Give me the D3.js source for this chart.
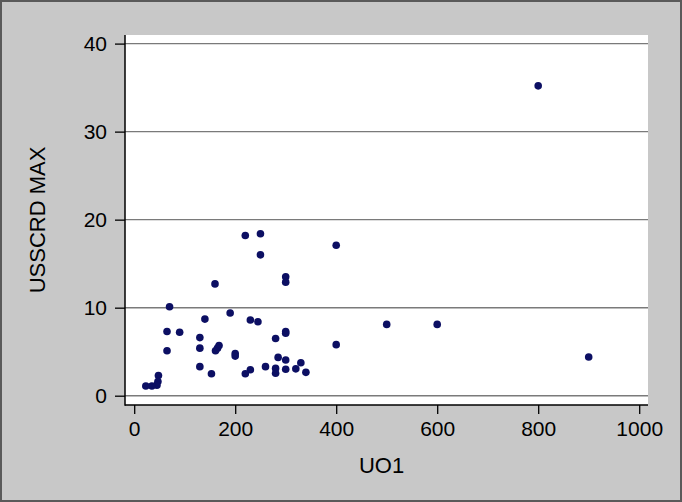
<!DOCTYPE html>
<html>
<head>
<meta charset="utf-8">
<script src="https://cdn.jsdelivr.net/npm/d3@7"></script>
<style>
html,body{margin:0;padding:0;background:#fff;}
svg{display:block;font-family:"Liberation Sans",Arial,sans-serif;}
</style>
</head>
<body>
<svg id="chart" width="682" height="502"></svg>
<script>
const uo1 = [800,900,600,500,400,400,
  220,250,250,300,300,160,
  70,190,140,230,245,
  65,90,130,300,300,280,
  168,165,161,65,130,
  200,200,285,300,330,
  320,130,260,280,300,230,
  220,280,340,153,
  48,47,45,35,23];
const usscrdMax = [35.2,4.4,8.1,8.1,17.1,5.8,
  18.2,18.4,16.0,13.5,12.9,12.7,
  10.1,9.4,8.7,8.6,8.4,
  7.3,7.2,6.6,7.3,7.1,6.5,
  5.7,5.4,5.1,5.1,5.4,
  4.8,4.5,4.35,4.05,3.75,
  3.05,3.3,3.3,3.1,3.0,2.95,
  2.5,2.55,2.65,2.5,
  2.3,1.6,1.2,1.1,1.1];
const xTicks = [0,200,400,600,800,1000];
const yTicks = [0,10,20,30,40];
const xTitle = "UO1";
const yTitle = "USSCRD MAX";

const W = 682, H = 502;
const plot = {left:125, right:648, top:35, bottom:405};
const svg = d3.select("#chart");

// outer background
svg.append("rect").attr("x",1).attr("y",1).attr("width",W-2).attr("height",H-2)
  .attr("fill","#c8c8c8").attr("stroke","#5a5a5a").attr("stroke-width",2);

const x = d3.scaleLinear().domain([0,1000]).range([134.2,639.2]);
const y = d3.scaleLinear().domain([0,40]).range([395.7,43.6]);

// plot region
svg.append("rect").attr("x",plot.left).attr("y",plot.top)
  .attr("width",plot.right-plot.left).attr("height",plot.bottom-plot.top)
  .attr("fill","#ffffff");

// gridlines
svg.append("g").selectAll("line").data(yTicks).join("line")
  .attr("x1",plot.left).attr("x2",plot.right)
  .attr("y1",d=>y(d)).attr("y2",d=>y(d))
  .attr("stroke","#7a7a7a").attr("stroke-width",1.4);

// y axis
const yAxis = svg.append("g").attr("transform",`translate(${plot.left},0)`)
  .call(d3.axisLeft(y).tickValues(yTicks).tickSize(10).tickPadding(8).tickFormat(d3.format("d")));
yAxis.select(".domain").remove();
yAxis.selectAll(".tick line").attr("stroke","#000").attr("stroke-width",1.3);
yAxis.selectAll(".tick text").attr("font-size",21).attr("fill","#000")
  .attr("font-family","'Liberation Sans',Arial,sans-serif");

// x axis
const xAxis = svg.append("g").attr("transform",`translate(0,${plot.bottom})`)
  .call(d3.axisBottom(x).tickValues(xTicks).tickSize(9).tickPadding(7).tickFormat(d3.format("d")));
xAxis.select(".domain").remove();
xAxis.selectAll(".tick line").attr("stroke","#000").attr("stroke-width",1.3);
xAxis.selectAll(".tick text").attr("font-size",21).attr("fill","#000")
  .attr("font-family","'Liberation Sans',Arial,sans-serif");

// axis lines
svg.append("line").attr("x1",plot.left).attr("x2",plot.left)
  .attr("y1",plot.top).attr("y2",plot.bottom+0.7)
  .attr("stroke","#000").attr("stroke-width",1.5);
svg.append("line").attr("x1",plot.left).attr("x2",plot.right)
  .attr("y1",plot.bottom).attr("y2",plot.bottom)
  .attr("stroke","#000").attr("stroke-width",1.5);

// points
svg.append("g").selectAll("circle").data(uo1.map((v,i)=>[v,usscrdMax[i]])).join("circle")
  .attr("cx",d=>x(d[0])).attr("cy",d=>y(d[1])).attr("r",3.8)
  .attr("fill","#0c0f63");

// titles
svg.append("text").attr("x",(plot.left+plot.right)/2-5).attr("y",473)
  .attr("text-anchor","middle").attr("font-size",22).attr("fill","#000").text(xTitle);
svg.append("text").attr("transform",`translate(45,${(plot.top+plot.bottom)/2}) rotate(-90)`)
  .attr("text-anchor","middle").attr("font-size",22).attr("fill","#000").text(yTitle);
</script>
</body>
</html>
